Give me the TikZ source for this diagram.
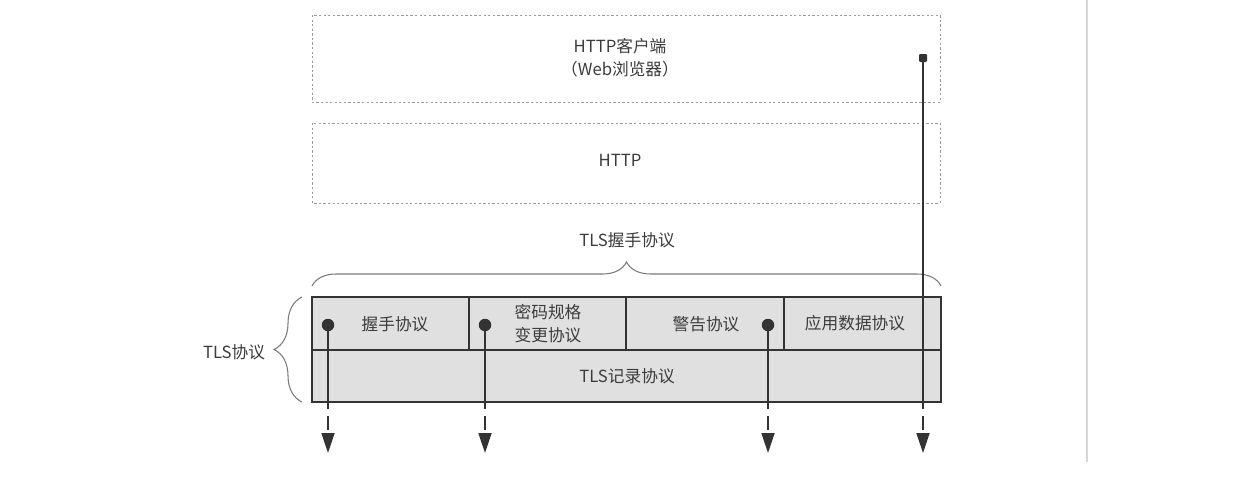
\documentclass[tikz,border=0pt]{standalone}
\usepackage{fontspec}
\setmainfont{Noto Sans CJK SC}
\usetikzlibrary{arrows.meta,decorations.pathreplacing}
\definecolor{ink}{HTML}{333333}
\definecolor{txt}{HTML}{3C3C3C}
\definecolor{boxgray}{HTML}{E0E0E0}
\definecolor{dashgray}{HTML}{9A9A9A}
\definecolor{bracegray}{HTML}{7A7A7A}
\definecolor{edgegray}{HTML}{D6D6D6}
\begin{document}
\begin{tikzpicture}[x=0.02cm,y=-0.02cm,
  lbl/.style={text=txt, font=\fontsize{9.5}{13}\selectfont, align=center, inner sep=0pt},
  dashbox/.style={draw=dashgray, line width=0.5pt, dash pattern=on 1.3pt off 1.3pt},
  cell/.style={draw=ink, fill=boxgray, line width=1.1pt},
  dot/.style={circle, fill=ink, minimum size=0.25cm, inner sep=0pt},
  sqcap/.style={rectangle, rounded corners=0.6pt, fill=ink, minimum size=0.16cm, inner sep=0pt},
  solidline/.style={draw=ink, line width=1pt},
  dashline/.style={draw=ink, line width=1pt, dash pattern=on 0.28cm off 0.14cm, -{Triangle[length=0.4cm,width=0.26cm]}},
  brc/.style={draw=bracegray, line width=0.6pt, decorate, decoration={brace, amplitude=#1}}
]
\useasboundingbox[fill=white] (0,0) rectangle (1240,484);

% faint page edge
\draw[edgegray, line width=1pt] (1087,0) -- (1087,462);

% upper dashed boxes
\draw[dashbox] (312,15) rectangle (940,102);
\node[lbl] (client) at (620,58) {HTTP客户端\\（Web浏览器）};
\draw[dashbox] (312,123) rectangle (940,203);
\node[lbl] (http) at (620,160) {HTTP};

% top brace
\draw[brc=0.48cm] (312,286) -- (941,286);
\node[lbl] (hslabel) at (627,240) {TLS握手协议};

% TLS stack
\filldraw[cell] (312,297) rectangle (941,402);
\draw[cell] (312,350) -- (941,350);
\draw[cell] (469,297) -- (469,350);
\draw[cell] (626,297) -- (626,350);
\draw[cell] (784,297) -- (784,350);

\node[lbl] (hs) at (395,324) {握手协议};
\node[lbl] (ccs) at (548,324) {密码规格\\变更协议};
\node[lbl] (alert) at (706,324) {警告协议};
\node[lbl] (app) at (855,323) {应用数据协议};
\node[lbl] (rec) at (627,376) {TLS记录协议};

% left brace
\draw[brc=0.56cm] (302,402) -- (302,297);
\node[lbl] (tls) at (234,352) {TLS协议};

% flows
\node[dot] (d1) at (328,325) {};
\node[dot] (d2) at (485,325) {};
\node[dot] (d3) at (768,325) {};
\node[sqcap] (d4) at (923,58) {};
\foreach \i/\x in {1/328,2/485,3/768,4/923}{
  \coordinate (m\i) at (\x,395);
  \coordinate (e\i) at (\x,453);
}
\foreach \i in {1,2,3,4}{
  \draw[solidline] (d\i.center) -- (m\i);
  \draw[dashline] (m\i) -- (e\i);
}
\end{tikzpicture}
\end{document}
